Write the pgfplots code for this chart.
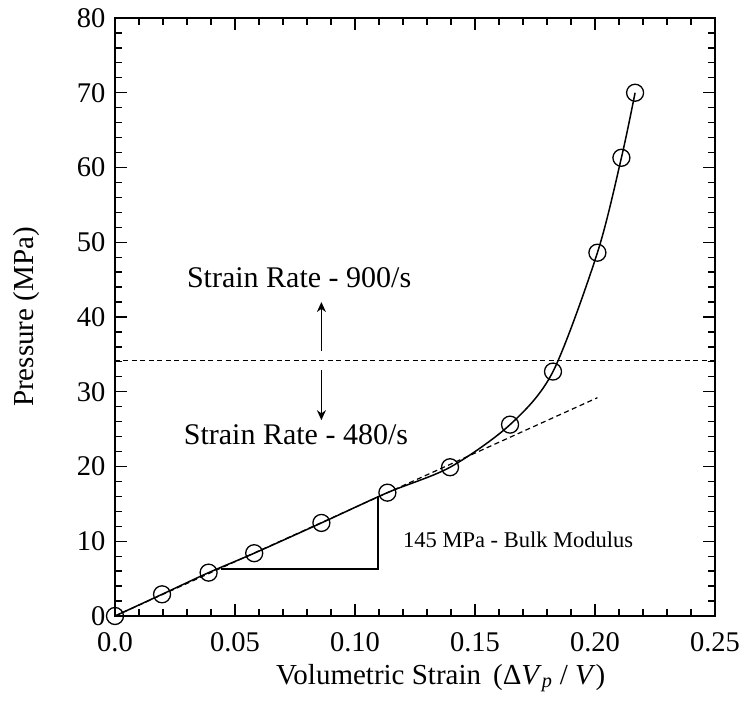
\documentclass[border=0pt]{standalone}
\usepackage{fontspec}
\setmainfont{Liberation Serif}
\usepackage{pgfplots}
\pgfplotsset{compat=1.18}
\usetikzlibrary{arrows.meta}

\begin{document}
\begin{tikzpicture}
\begin{axis}[
  scale only axis,
  width=600pt, height=598pt,
  xmin=0, xmax=0.25, ymin=0, ymax=80,
  xtick={0,0.05,0.10,0.15,0.20,0.25},
  xticklabels={0.0,0.05,0.10,0.15,0.20,0.25},
  ytick={0,10,20,30,40,50,60,70,80},
  minor x tick num=4, minor y tick num=4,
  tick align=inside,
  major tick length=12pt, minor tick length=7pt,
  every tick/.style={black, line width=1.3pt},
  axis line style={line width=1.8pt},
  /pgf/number format/assume math mode=true,
  tick label style={font=\fontsize{28.5}{32}\selectfont},
  xticklabel style={yshift=-13pt},
  yticklabel style={xshift=-6pt},
  xlabel={Volumetric Strain \,(Δ\textit{V}\textsubscript{\textit{p}} / \textit{V})},
  ylabel={Pressure (MPa)},
  label style={font=\fontsize{29}{33}\selectfont},
  xlabel style={at={(axis description cs:0.543,-0.104)}, anchor=center},
  ylabel style={at={(axis description cs:-0.148,0.5)}, anchor=center, rotate=0},
  clip=false,
]
\addplot[black, line width=1.5pt, smooth, mark=o, mark size=8.5pt,
  mark options={line width=1.3pt, fill=none}] coordinates {
  (0,0) (0.0196,2.9) (0.039,5.8) (0.058,8.4) (0.086,12.45) (0.1135,16.5)
  (0.1396,19.9) (0.1646,25.6) (0.1825,32.7) (0.201,48.6) (0.211,61.3) (0.2167,70.0)
};
\addplot[black, line width=1.2pt, dash pattern=on 5pt off 3.5pt] coordinates {(0,0) (0.201,29.2)};
\addplot[black, line width=1.2pt, dash pattern=on 5pt off 3.5pt] coordinates {(0,34.2) (0.25,34.2)};
\addplot[black, line width=1.5pt] coordinates {(0.044,6.3) (0.1096,6.3) (0.1096,16.0)};
\addplot[black, line width=1.3pt, -{Stealth[length=10pt,width=9pt]}] coordinates {(0.086,35.5) (0.086,42)};
\addplot[black, line width=1.3pt, -{Stealth[length=10pt,width=9pt]}] coordinates {(0.086,32.9) (0.086,26.2)};
\node[font=\fontsize{30}{34}\selectfont] at (axis cs:0.0767,45.2) {Strain Rate - 900/s};
\node[font=\fontsize{30}{34}\selectfont] at (axis cs:0.0754,24.2) {Strain Rate - 480/s};
\node[font=\fontsize{22.5}{26}\selectfont] at (axis cs:0.168,10.2) {145 MPa - Bulk Modulus};
\end{axis}
\pgfresetboundingbox
\path (current axis.south west) ++(-115pt,-95pt) rectangle ++(744pt,711pt);
\end{tikzpicture}
\end{document}
